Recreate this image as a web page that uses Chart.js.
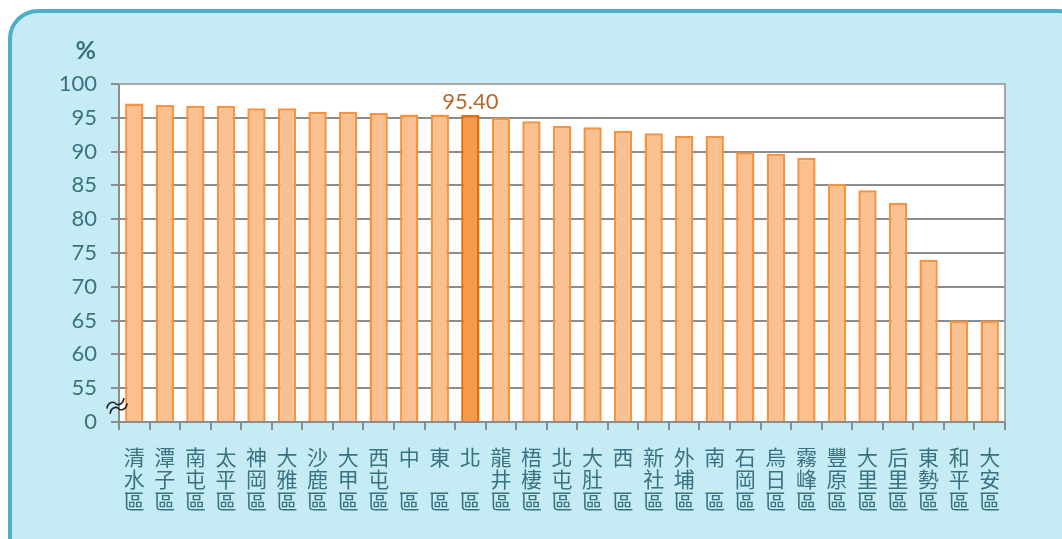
<!DOCTYPE html>
<html>
<head>
<meta charset="utf-8">
<script src="https://cdn.jsdelivr.net/npm/chart.js@4.4.1/dist/chart.umd.min.js"></script>
<style>
  html, body { margin:0; padding:0; background:#ffffff; }
  #wrap { position:relative; width:1062px; height:539px; overflow:hidden; }
  #panel { position:absolute; left:8px; top:9px; width:1080px; height:560px;
           background:#c5ebf5; border:4px solid #4eadc7; border-radius:30px; box-sizing:border-box; }
  #c { position:absolute; left:0; top:0; }
</style>
</head>
<body>
<div id="wrap">
  <div id="panel"></div>
  <canvas id="c" width="1062" height="539"></canvas>
</div>
<script>
const categories = ['清水區','潭子區','南屯區','太平區','神岡區','大雅區','沙鹿區','大甲區','西屯區','中區','東區','北區','龍井區','梧棲區','北屯區','大肚區','西區','新社區','外埔區','南區','石岡區','烏日區','霧峰區','豐原區','大里區','后里區','東勢區','和平區','大安區'];
const values = [97.1, 96.9, 96.8, 96.8, 96.4, 96.4, 95.9, 95.9, 95.7, 95.5, 95.5, 95.40, 95.0, 94.5, 93.8, 93.6, 93.1, 92.7, 92.3, 92.3, 89.9, 89.7, 89.1, 85.2, 84.3, 82.4, 74.0, 65.0, 65.0];
const highlightIndex = 11;
const highlightLabel = '95.40';
const yTickValues = [50, 55, 60, 65, 70, 75, 80, 85, 90, 95, 100];
const yTickLabels = ['0', '55', '60', '65', '70', '75', '80', '85', '90', '95', '100'];

const labelLines = categories.map(n => n.length === 2 ? [n[0], '', n[1]] : n.split(''));
const fills = values.map((v, i) => i === highlightIndex ? '#f79a4c' : '#fac08f');
const borders = values.map((v, i) => i === highlightIndex ? '#e46c0a' : '#f79340');

const TEXT = '#3b7282';
const GRID = '#8c8c8c';

const decor = {
  id: 'decor',
  beforeDraw(chart) {
    const {ctx, chartArea: a} = chart;
    ctx.save();
    ctx.fillStyle = '#ffffff';
    ctx.fillRect(a.left, a.top, a.right - a.left, a.bottom - a.top);
    ctx.restore();
  },
  afterDraw(chart) {
    const {ctx, chartArea: a} = chart;
    ctx.save();
    // plot outline top/right
    ctx.strokeStyle = '#a6a6a6';
    ctx.lineWidth = 2;
    ctx.beginPath();
    ctx.moveTo(a.left, a.top);
    ctx.lineTo(a.right, a.top);
    ctx.lineTo(a.right, a.bottom);
    ctx.stroke();
    // % unit
    ctx.fillStyle = TEXT;
    ctx.font = 'bold 25px Lato, "Noto Sans", sans-serif';
    ctx.textAlign = 'right';
    ctx.textBaseline = 'middle';
    ctx.fillText('%', 96, 51);
    // highlighted value label
    const bar = chart.getDatasetMeta(0).data[highlightIndex];
    ctx.fillStyle = '#b5692c';
    ctx.font = '22px Lato, "Noto Sans", sans-serif';
    ctx.textAlign = 'center';
    ctx.textBaseline = 'alphabetic';
    ctx.fillText(highlightLabel, bar.x, bar.y - 6);
    // axis break symbol
    const cx = a.left - 2, cy = a.bottom - 16;
    ctx.translate(cx, cy);
    ctx.rotate(-0.55);
    ctx.strokeStyle = '#222';
    ctx.lineWidth = 1.6;
    for (const dy of [-3, 3]) {
      ctx.beginPath();
      ctx.moveTo(-10, dy);
      ctx.bezierCurveTo(-5, dy - 6, 0, dy - 2, 0, dy);
      ctx.bezierCurveTo(0, dy + 2, 5, dy + 6, 10, dy);
      ctx.stroke();
    }
    ctx.restore();
  }
};

new Chart(document.getElementById('c'), {
  type: 'bar',
  data: {
    labels: labelLines,
    datasets: [{
      data: values,
      base: 50,
      backgroundColor: fills,
      borderColor: borders,
      borderWidth: 2.5,
      borderSkipped: 'bottom',
      categoryPercentage: 1,
      barPercentage: 0.6
    }]
  },
  options: {
    responsive: false,
    animation: false,
    devicePixelRatio: 1,
    layout: { padding: { top: 84, right: 57, left: 0, bottom: 0 } },
    plugins: { legend: { display: false }, tooltip: { enabled: false } },
    scales: {
      x: {
        grid: { display: true, drawOnChartArea: false, drawTicks: true, tickLength: 8, color: GRID, lineWidth: 2, offset: true },
        border: { display: true, color: GRID, width: 2 },
        ticks: {
          color: TEXT, padding: 16, maxRotation: 0, minRotation: 0, autoSkip: false,
          font: { family: '"Noto Sans CJK TC", sans-serif', size: 21, lineHeight: 1.05 }
        },
        afterFit(scale) { scale.height = 117; }
      },
      y: {
        min: 50, max: 100,
        afterBuildTicks(scale) { scale.ticks = yTickValues.map(v => ({ value: v })); },
        grid: { color: GRID, lineWidth: 2, tickLength: 8, drawTicks: true },
        border: { display: true, color: GRID, width: 2 },
        ticks: {
          color: TEXT, padding: 14,
          font: { family: 'Lato, "Noto Sans", sans-serif', size: 22 },
          callback(v) { const i = yTickValues.indexOf(v); return i >= 0 ? yTickLabels[i] : ''; }
        },
        afterFit(scale) { scale.width = 119; }
      }
    }
  },
  plugins: [decor]
});
</script>
</body>
</html>
